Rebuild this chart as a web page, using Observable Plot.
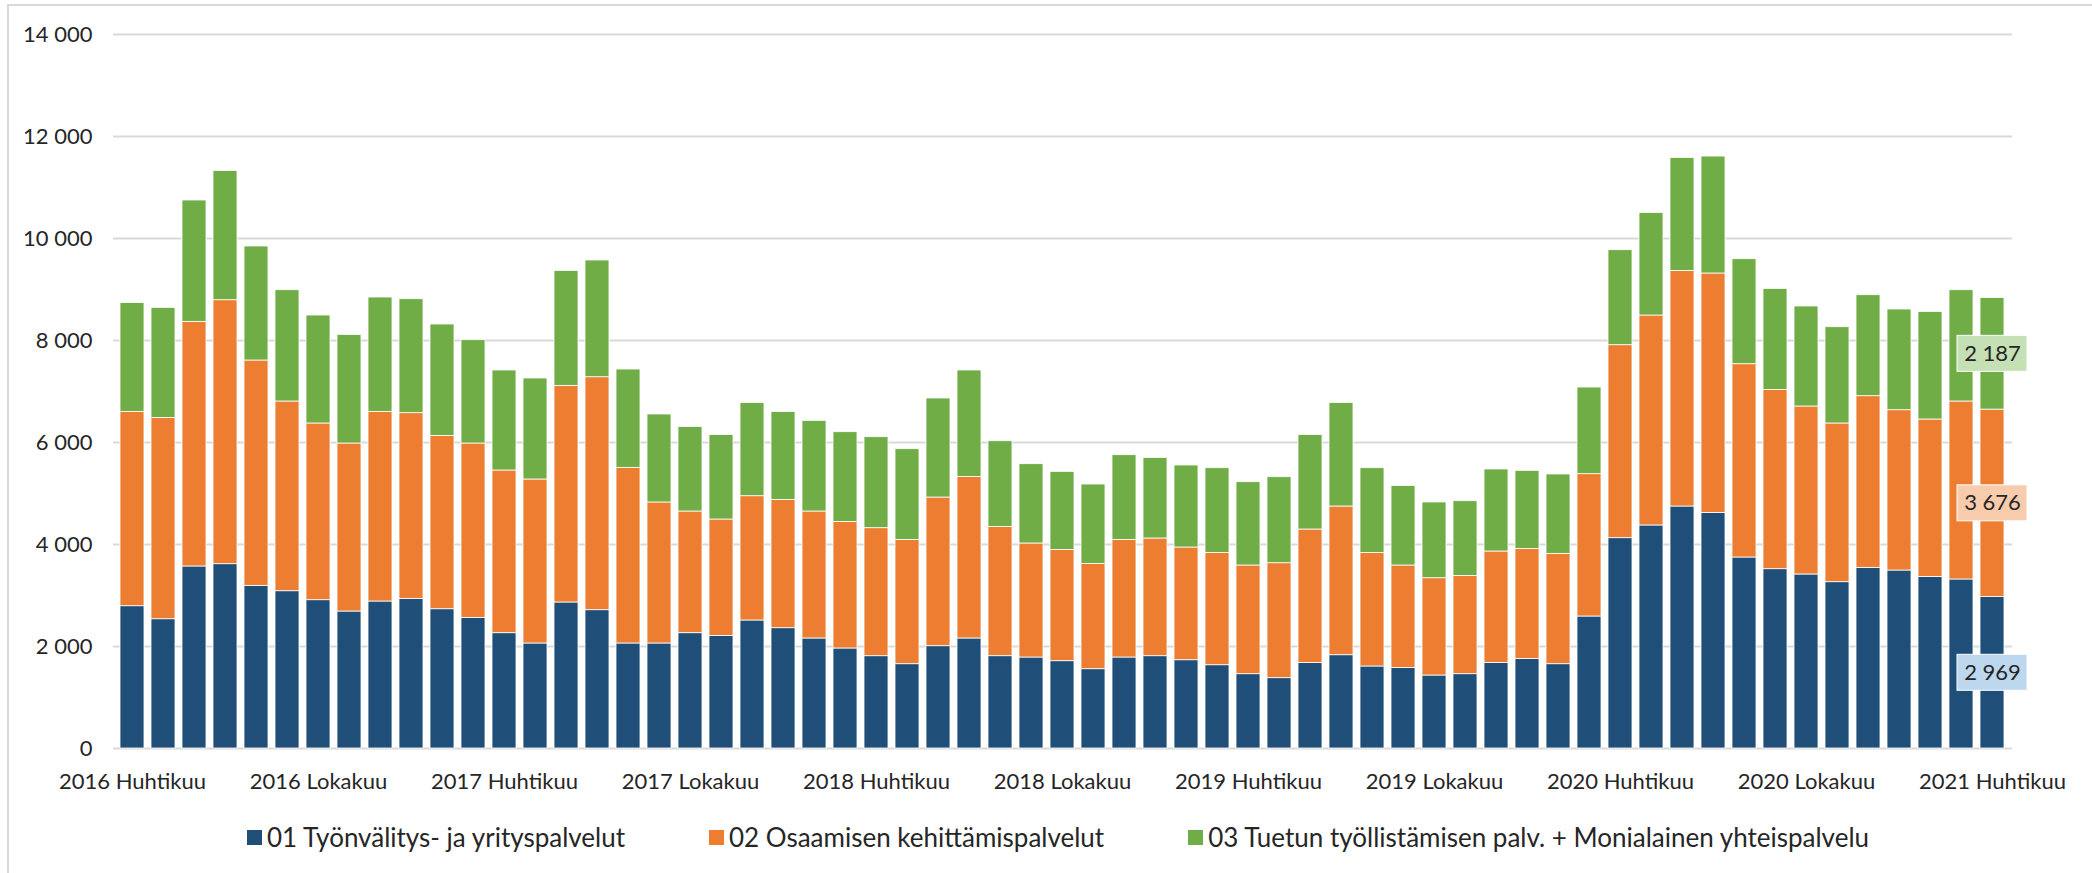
<!DOCTYPE html>
<html><head><meta charset="utf-8">
<script src="https://cdn.jsdelivr.net/npm/d3@7"></script>
<script src="https://cdn.jsdelivr.net/npm/@observablehq/plot@0.6"></script>
<style>
html,body{margin:0;padding:0;background:#fff;overflow:hidden;}
body{width:2092px;height:873px;position:relative;font-family:Lato,"Open Sans",sans-serif;}
#frame{position:absolute;left:7px;top:4px;width:2200px;height:1000px;border-top:2px solid #d9d9d9;border-left:2px solid #d9d9d9;pointer-events:none;box-sizing:border-box;}
#chart{position:absolute;left:0;top:0;}
#legend{position:absolute;left:0;top:820px;width:2116px;display:flex;justify-content:center;gap:84px;font-size:26px;line-height:34px;color:#262626;}
#legend .item{display:flex;align-items:center;white-space:nowrap;}
#legend .sw{width:15px;height:15px;margin-right:5px;display:inline-block;}
</style>
</head><body>
<div id="chart"></div>
<div id="legend"></div>
<div id="frame"></div>
<script>
const monthNames = ["Tammikuu","Helmikuu","Maaliskuu","Huhtikuu","Toukokuu","Kesäkuu","Heinäkuu","Elokuu","Syyskuu","Lokakuu","Marraskuu","Joulukuu"];
const firstYear = 2016, firstMonthIndex = 3, monthCount = 61;
const categories = [];
for (let i = 0; i < monthCount; i++) {
  const k = firstMonthIndex + i;
  categories.push(`${firstYear + Math.floor(k / 12)} ${monthNames[k % 12]}`);
}

const seriesNames = [
  "01 Työnvälitys- ja yrityspalvelut",
  "02 Osaamisen kehittämispalvelut",
  "03 Tuetun työllistämisen palv. + Monialainen yhteispalvelu"
];
const seriesColors = ["#1f4e79", "#ed7d31", "#70ad47"];
const labelBoxColors = ["#bdd7ee", "#f8cbad", "#c5e0b4"];

const tyonvalitys = [2790,2535,3569,3614,3189,3084,2908,2686,2882,2934,2731,2561,2261,2059,2863,2712,2059,2059,2261,2208,2510,2359,2157,1961,1810,1653,2006,2157,1810,1784,1712,1555,1784,1810,1731,1633,1457,1379,1679,1829,1608,1580,1431,1457,1679,1757,1653,2588,4124,4373,4745,4620,3745,3516,3412,3261,3542,3490,3365,3314,2969];
const osaaminen = [3810,3947,4796,5176,4419,3720,3465,3294,3718,3641,3399,3419,3190,3216,4247,4568,3444,2765,2386,2282,2437,2516,2490,2482,2510,2437,2915,3169,2535,2236,2182,2065,2306,2308,2210,2202,2131,2254,2615,2916,2227,2008,1908,1927,2184,2157,2163,2791,3784,4117,4620,4694,3790,3515,3294,3112,3366,3143,3086,3490,3676];
const tuettu = [2137,2158,2380,2535,2235,2182,2117,2130,2243,2235,2184,2026,1961,1980,2255,2289,1928,1725,1659,1659,1829,1725,1777,1759,1784,1779,1942,2086,1680,1555,1530,1556,1661,1580,1608,1661,1634,1687,1855,2031,1661,1561,1485,1465,1608,1530,1557,1699,1863,2012,2215,2293,2059,1981,1961,1888,1980,1975,2110,2182,2187];

const yTicks = [0,2000,4000,6000,8000,10000,12000,14000];

const series = [tyonvalitys, osaaminen, tuettu];
const data = [];
series.forEach((vals, s) => vals.forEach((v, i) => data.push({month: categories[i], series: seriesNames[s], value: v})));

const last = monthCount - 1;
const labels = [];
let cum = 0;
series.forEach((vals, s) => { const v = vals[last]; labels.push({month: categories[last], mid: cum + v / 2, value: v, s}); cum += v; });

const loc = d3.formatLocale({decimal: ",", thousands: "\u00a0", grouping: [3], currency: ["", "€"]});
const fmt = loc.format(",d");

const plot = Plot.plot({
  width: 2092, height: 800,
  marginLeft: 113, marginRight: 80, marginTop: 34, marginBottom: 52,
  style: {fontFamily: 'Lato, "Open Sans", sans-serif', fontSize: "22px", color: "#262626", background: "transparent", overflow: "visible"},
  x: {domain: categories, paddingInner: 0.21, paddingOuter: 0.13, label: null, tickSize: 0, tickPadding: 25,
      tickFormat: d => (categories.indexOf(d) % 6 === 0 ? d : "")},
  y: {domain: [0, 14000], ticks: yTicks, tickFormat: fmt, label: null, tickSize: 0, tickPadding: 21},
  color: {domain: seriesNames, range: seriesColors},
  marks: [
    Plot.gridY(yTicks, {stroke: "#d9d9d9", strokeOpacity: 1, strokeWidth: 2}),
    Plot.barY(data, {x: "month", y: "value", fill: "series", stroke: "white", strokeWidth: 0.8}),
    Plot.text(labels, {x: "month", y: "mid", text: d => fmt(d.value), fill: "#262626", fontSize: 22})
  ]
});
document.getElementById("chart").appendChild(plot);

// label boxes behind the annotation texts, positioned with the plot's own scales
const xs = plot.scale("x"), ys = plot.scale("y");
const textGroups = plot.querySelectorAll('g[aria-label="text"]');
const tg = textGroups[textGroups.length - 1];
const boxG = document.createElementNS("http://www.w3.org/2000/svg", "g");
labels.forEach(d => {
  const cx = xs.apply(d.month) + xs.bandwidth / 2;
  const cy = ys.apply(d.mid);
  const r = document.createElementNS("http://www.w3.org/2000/svg", "rect");
  r.setAttribute("x", cx - 35); r.setAttribute("y", cy - 18);
  r.setAttribute("width", 70); r.setAttribute("height", 36);
  r.setAttribute("fill", labelBoxColors[d.s]);
  r.setAttribute("stroke", "#ffffff"); r.setAttribute("stroke-width", 1);
  boxG.appendChild(r);
});
if (tg) tg.parentNode.insertBefore(boxG, tg); else plot.appendChild(boxG);

const legend = document.getElementById("legend");
seriesNames.forEach((n, i) => {
  const it = document.createElement("div"); it.className = "item";
  const sw = document.createElement("span"); sw.className = "sw"; sw.style.background = seriesColors[i];
  const tx = document.createElement("span"); tx.textContent = n;
  it.appendChild(sw); it.appendChild(tx); legend.appendChild(it);
});
</script>
</body></html>
